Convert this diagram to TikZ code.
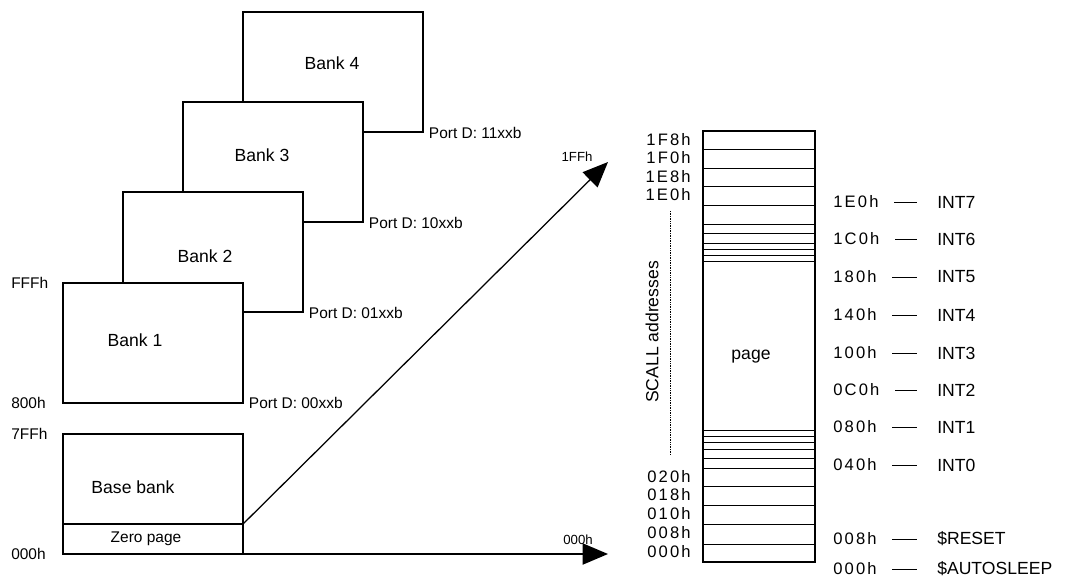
\documentclass[tikz,border=0pt]{standalone}
\usepackage{fontspec}
\setmainfont{Liberation Sans}
\newfontfamily\spacedfont{Liberation Sans}[LetterSpace=13]
\usetikzlibrary{arrows.meta}
\begin{document}
\begin{tikzpicture}[x=0.025cm,y=-0.025cm,>={Triangle[length=18pt,width=15pt]},
  bank/.style={draw,line width=1.6pt,fill=white,minimum width=4.5cm,minimum height=3cm,
    anchor=north west,inner sep=0pt,outer sep=0pt},
  banktext/.style={font=\fontsize{12.5}{14}\selectfont,inner sep=0pt},
  portlabel/.style={font=\fontsize{11}{13}\selectfont,inner sep=0pt,anchor=west},
  tinylabel/.style={font=\fontsize{9.4}{11}\selectfont,inner sep=0pt},
  addr/.style={font=\spacedfont\fontsize{11.8}{13}\selectfont,inner sep=0pt},
  intlabel/.style={font=\fontsize{12.5}{14}\selectfont,inner sep=0pt,anchor=west},
  slot/.style={line width=0.6pt},
  dashline/.style={line width=0.6pt,shorten <=11pt,shorten >=14pt}]
\useasboundingbox (0,0) rectangle (1072,579);
% banks, back to front
\node[bank] (bank4) at (243,12) {};
\node[bank] (bank3) at (183,102) {};
\node[bank] (bank2) at (123,192) {};
\node[bank] (bank1) at (63,283) {};
\node[bank,minimum height=2.25cm] (base) at (63,434) {};
\node[bank,minimum height=0.75cm] (zero) at (63,524) {};
\node[banktext] (txt4) at (332,63) {Bank 4};
\node[banktext] (txt3) at (262,155) {Bank 3};
\node[banktext] (txt2) at (205,256) {Bank 2};
\node[banktext] (txt1) at (135,340) {Bank 1};
\node[banktext] (txtbase) at (133,487) {Base bank};
\node[portlabel,anchor=center] (txtzero) at (146,539) {Zero page};
\node[portlabel] (port4) at ([xshift=4pt,yshift=-1pt]bank4.south east) {Port D: 11xxb};
\node[portlabel] (port3) at ([xshift=4pt,yshift=-1pt]bank3.south east) {Port D: 10xxb};
\node[portlabel] (port2) at ([xshift=4pt,yshift=-1pt]bank2.south east) {Port D: 01xxb};
\node[portlabel] (port1) at ([xshift=4pt]bank1.south east) {Port D: 00xxb};
\node[portlabel] (fff) at (11,283) {FFFh};
\node[portlabel] (a800) at (11,403) {800h};
\node[portlabel] (a7ff) at (11,434) {7FFh};
\node[portlabel] (a000) at (11,554) {000h};
% arrows to the page
\coordinate (top) at (608,162);
\coordinate (bot) at (608,554);
\draw[->,line width=0.9pt] (zero.north east) -- (top);
\draw[->,line width=1.1pt] (zero.south east) -- (bot);
\node[tinylabel] (lbltop) at (577,157) {1FFh};
\node[tinylabel] (lblbot) at (578,540) {000h};
% the page
\node[draw,line width=1.6pt,minimum width=2.8cm,minimum height=10.775cm,
  anchor=north west,inner sep=0pt,outer sep=0pt] (col) at (703,131) {};
\draw[slot] (703,149) -- (815,149);
\draw[slot] (703,168) -- (815,168);
\draw[slot] (703,186) -- (815,186);
\draw[slot] (703,205) -- (815,205);
\draw[slot] (703,224) -- (815,224);
\draw[slot] (703,233) -- (815,233);
\draw[slot] (703,243) -- (815,243);
\draw[slot] (703,249) -- (815,249);
\draw[slot] (703,255) -- (815,255);
\draw[slot] (703,261) -- (815,261);
\draw[slot] (703,430) -- (815,430);
\draw[slot] (703,436) -- (815,436);
\draw[slot] (703,442) -- (815,442);
\draw[slot] (703,449) -- (815,449);
\draw[slot] (703,458) -- (815,458);
\draw[slot] (703,468) -- (815,468);
\draw[slot] (703,486) -- (815,486);
\draw[slot] (703,505) -- (815,505);
\draw[slot] (703,524) -- (815,524);
\draw[slot] (703,544) -- (815,544);
\node[banktext] (pagetxt) at (751,357) {page};
\draw[line width=0.5pt,dash pattern=on 0.6pt off 0.6pt] (670,211) -- (670,455);
\node[banktext,rotate=90] (scall) at (652,332) {SCALL addresses};
\node[addr,anchor=east] (l1f8) at (691,140) {1F8h};
\node[addr,anchor=east] (l1f0) at (691,158) {1F0h};
\node[addr,anchor=east] (l1e8) at (691,177) {1E8h};
\node[addr,anchor=east] (l1e0) at (691,195) {1E0h};
\node[addr,anchor=east] (l020) at (691,477) {020h};
\node[addr,anchor=east] (l018) at (691,495) {018h};
\node[addr,anchor=east] (l010) at (691,514) {010h};
\node[addr,anchor=east] (l008) at (691,533) {008h};
\node[addr,anchor=east] (l000) at (691,552) {000h};
% vectors
\node[addr,anchor=west] (r1e0) at (833,202) {1E0h};
\node[intlabel] (int7) at (937,202) {INT7};
\node[addr,anchor=west] (r1c0) at (833,239) {1C0h};
\node[intlabel] (int6) at (937,239) {INT6};
\node[addr,anchor=west] (r180) at (833,277) {180h};
\node[intlabel] (int5) at (937,277) {INT5};
\node[addr,anchor=west] (r140) at (833,315) {140h};
\node[intlabel] (int4) at (937,315) {INT4};
\node[addr,anchor=west] (r100) at (833,353) {100h};
\node[intlabel] (int3) at (937,353) {INT3};
\node[addr,anchor=west] (r0c0) at (833,390) {0C0h};
\node[intlabel] (int2) at (937,390) {INT2};
\node[addr,anchor=west] (r080) at (833,427) {080h};
\node[intlabel] (int1) at (937,427) {INT1};
\node[addr,anchor=west] (r040) at (833,465) {040h};
\node[intlabel] (int0) at (937,465) {INT0};
\node[addr,anchor=west] (r008) at (833,539) {008h};
\node[intlabel] (reset) at (937,539) {\$RESET};
\node[addr,anchor=west] (r000) at (833,569) {000h};
\node[intlabel] (sleep) at (937,569) {\$AUTOSLEEP};
\draw[dashline] (r1e0.east) -- (int7.west);
\draw[dashline] (r1c0.east) -- (int6.west);
\draw[dashline] (r180.east) -- (int5.west);
\draw[dashline] (r140.east) -- (int4.west);
\draw[dashline] (r100.east) -- (int3.west);
\draw[dashline] (r0c0.east) -- (int2.west);
\draw[dashline] (r080.east) -- (int1.west);
\draw[dashline] (r040.east) -- (int0.west);
\draw[dashline] (r008.east) -- (reset.west);
\draw[dashline] (r000.east) -- (sleep.west);
\end{tikzpicture}
\end{document}
